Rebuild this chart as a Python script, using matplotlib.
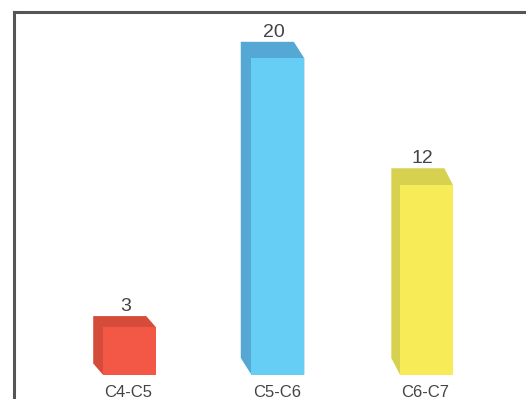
import matplotlib
matplotlib.use("Agg")
import matplotlib.pyplot as plt
from matplotlib.patches import Polygon

categories = ["C4-C5", "C5-C6", "C6-C7"]
values = [3, 20, 12]
front_colors = ["#F25845", "#66CEF5", "#F7EC58"]
side_colors = ["#D54D3A", "#55A8D4", "#D6D14F"]

# 3d depth of each box in pixels (left, up)
depth_dx = [9.5, 10.5, 8.5]
depth_dy = [11, 16.5, 16.5]

plt.rcParams["font.family"] = ["Liberation Sans", "DejaVu Sans"]

W, H = 526, 399
fig = plt.figure(figsize=(W / 100, H / 100), dpi=100)
# axes box in pixels: left 13.5, top 11.5, runs past the right/bottom edge
ax = fig.add_axes([13.5 / W, 1 - 410 / H, (540 - 13.5) / W, (410 - 11.5) / H])

x = list(range(len(categories)))
ax.set_xlim(-0.779, 2.765)
ax.set_ylim(-2.245, 22.96)

bars = ax.bar(x, values, width=0.357, color=front_colors, zorder=3)

fig.canvas.draw()
to_disp = ax.transData
to_data = ax.transData.inverted()

for i, b in enumerate(bars):
    x0, y0 = b.get_x(), 0
    x1, y1 = b.get_x() + b.get_width(), b.get_height()
    (px0, py0), (px1, py1) = to_disp.transform([(x0, y0), (x1, y1)])
    dx, dy = depth_dx[i], depth_dy[i]
    pts = [(px0 - dx, py1 + dy), (px1 - dx, py1 + dy), (px1, py1),
           (px1, py0), (px0, py0), (px0 - dx, py0 + dy)]
    ax.add_patch(Polygon(to_data.transform(pts), closed=True,
                         facecolor=side_colors[i], edgecolor="none", zorder=2))
    cx = (x0 + x1) / 2
    ax.annotate(str(values[i]), (cx, y1), xytext=(-3.5 * 0.72, (dy + 5) * 0.72),
                textcoords="offset points", ha="center", va="baseline",
                fontsize=14, color="#444444")
    ax.annotate(categories[i], (cx, 0), xytext=(-1 * 0.72, -22 * 0.72),
                textcoords="offset points", ha="center", va="baseline",
                fontsize=12, color="#444444")

for s in ["right", "bottom"]:
    ax.spines[s].set_visible(False)
for s in ["top", "left"]:
    ax.spines[s].set_color("#555555")
    ax.spines[s].set_linewidth(2.2)
ax.set_xticks([])
ax.set_yticks([])

fig.savefig("out.png", dpi=100)
